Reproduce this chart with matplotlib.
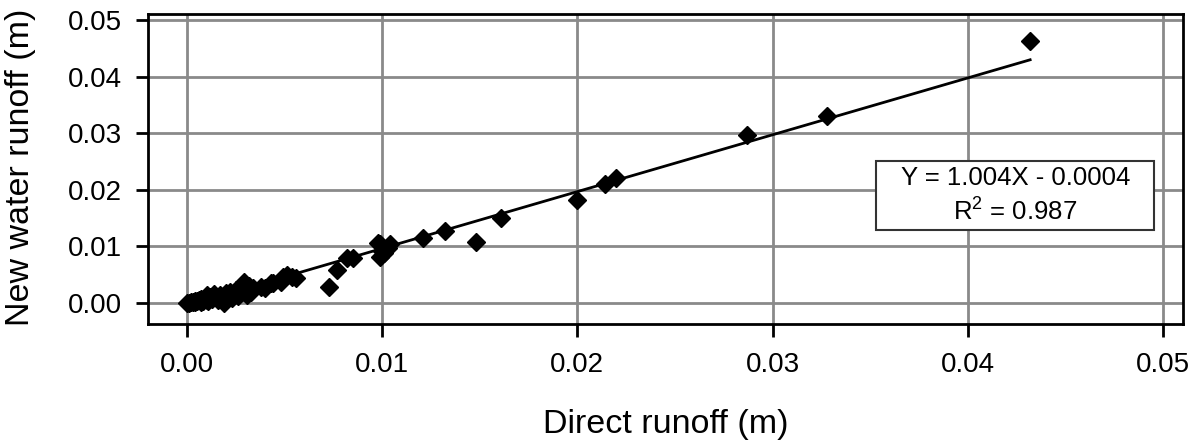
import matplotlib
matplotlib.use('Agg')
import matplotlib.pyplot as plt
from matplotlib.patches import Rectangle
from matplotlib.ticker import FormatStrFormatter, MultipleLocator

plt.rcParams['font.family'] = 'Liberation Sans'
plt.rcParams['mathtext.fontset'] = 'custom'
plt.rcParams['mathtext.rm'] = 'Liberation Sans'

# direct runoff vs new water runoff per event (m)
direct_runoff = [
    0.0000, 0.0001, 0.0002, 0.0003, 0.0004, 0.0004, 0.0005, 0.0006, 0.0007,
    0.0007, 0.0008, 0.0009, 0.0010, 0.0010, 0.0011, 0.0012, 0.0013, 0.0014,
    0.0015, 0.0016, 0.0017, 0.0018, 0.0018, 0.0019, 0.0020, 0.0021, 0.0022,
    0.0023, 0.0024, 0.0025, 0.0026, 0.0027, 0.0028, 0.0029, 0.0030, 0.0031,
    0.0031, 0.0032, 0.0033, 0.0034, 0.0038, 0.0040, 0.0043, 0.0044, 0.0048,
    0.0049, 0.0051, 0.0054, 0.0056, 0.0073, 0.0077, 0.0082, 0.0085, 0.0098,
    0.0099, 0.0099, 0.0100, 0.0101, 0.0103, 0.0104, 0.0121, 0.0132, 0.0148,
    0.0161, 0.0200, 0.0214, 0.0220, 0.0287, 0.0328, 0.0432,
]
new_water_runoff = [
    0.0000, 0.0000, 0.0001, 0.0002, 0.0001, 0.0004, 0.0003, 0.0005, 0.0002,
    0.0007, 0.0004, 0.0009, 0.0006, 0.0014, 0.0003, 0.0010, 0.0007, 0.0016,
    0.0010, 0.0006, 0.0015, 0.0011, 0.0005, 0.0000, 0.0018, 0.0013, 0.0020,
    0.0009, 0.0016, 0.0023, 0.0012, 0.0028, 0.0019, 0.0037, 0.0024, 0.0014,
    0.0023, 0.0030, 0.0020, 0.0026, 0.0028, 0.0027, 0.0035, 0.0035, 0.0037,
    0.0046, 0.0049, 0.0046, 0.0044, 0.0028, 0.0058, 0.0079, 0.0080, 0.0106,
    0.0081, 0.0104, 0.0092, 0.0088, 0.0097, 0.0105, 0.0115, 0.0127, 0.0108,
    0.0150, 0.0182, 0.0210, 0.0221, 0.0296, 0.0330, 0.0463,
]

slope = 1.004
intercept = -0.0004
r_squared = 0.987

fig = plt.figure(figsize=(12, 4.46), dpi=100)
ax = fig.add_axes([0.1233, 0.2735, 0.8625, 0.6951])

ax.grid(True, color='#8a8a8a', linewidth=2.0)
ax.set_axisbelow(True)

ax.plot(direct_runoff, new_water_runoff, linestyle='none', marker='D',
        markersize=9.5, color='black', zorder=3)

x_fit = [min(direct_runoff), max(direct_runoff)]
y_fit = [slope * x + intercept for x in x_fit]
ax.plot(x_fit, y_fit, color='black', linewidth=2.0, zorder=4)

ax.set_xlim(-0.002, 0.05103)
ax.set_ylim(-0.00371, 0.05106)
ax.xaxis.set_major_locator(MultipleLocator(0.01))
ax.yaxis.set_major_locator(MultipleLocator(0.01))
ax.xaxis.set_major_formatter(FormatStrFormatter('%.2f'))
ax.yaxis.set_major_formatter(FormatStrFormatter('%.2f'))
ax.tick_params(axis='both', direction='out', length=9, width=2.0,
               labelsize=20)
ax.tick_params(axis='x', pad=11)
ax.tick_params(axis='y', pad=10)
for spine in ax.spines.values():
    spine.set_linewidth(2.0)

ax.set_xlabel('Direct runoff (m)', fontsize=24.5)
ax.set_ylabel('New water runoff (m)', fontsize=24.5)
ax.xaxis.set_label_coords(0.5, -0.275)
ax.yaxis.set_label_coords(-0.108, 0.505)

ax.add_patch(Rectangle((0.7034, 0.3032), 0.2686, 0.2226,
                       transform=ax.transAxes, facecolor='white',
                       edgecolor='#333333', linewidth=1.5, zorder=5))
ax.text(0.838, 0.414,
        'Y = %.3fX - %.4f\nR$^2$ = %.3f' % (slope, -intercept, r_squared),
        transform=ax.transAxes, ha='center', va='center', fontsize=18.5,
        linespacing=1.3, zorder=6)

fig.savefig('out.png', dpi=100)
